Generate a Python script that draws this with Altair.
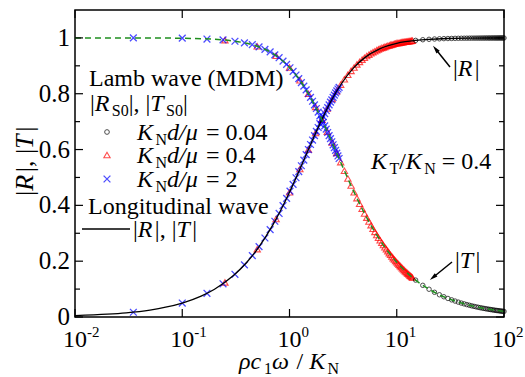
import altair as alt
import pandas as pd

# ---------------- data ----------------
# Longitudinal-wave curves |R| (black) and |T| (green dashed)
x_line = [0.01, 0.02, 0.03, 0.05, 0.07, 0.1, 0.15, 0.2, 0.3, 0.4, 0.5, 0.7, 1.0, 1.2,
          1.5, 2.0, 2.5, 3.0, 4.0, 5.0, 7.0, 10.0, 12.0, 15.0, 20.0, 30.0, 50.0, 70.0, 100.0]
R_line = [0.005, 0.010, 0.015, 0.025, 0.035, 0.0499, 0.0748, 0.0995, 0.1483, 0.1961, 0.2425,
          0.3303, 0.4472, 0.5145, 0.6000, 0.7071, 0.7809, 0.8321, 0.8944, 0.9285, 0.9615,
          0.9806, 0.9864, 0.9912, 0.9950, 0.9978, 0.9992, 0.9996, 0.9998]
T_line = [1.000, 1.000, 0.9999, 0.9997, 0.9994, 0.9988, 0.9972, 0.9950, 0.9889, 0.9806, 0.9701,
          0.9439, 0.8944, 0.8575, 0.8000, 0.7071, 0.6247, 0.5547, 0.4472, 0.3714, 0.2747,
          0.1961, 0.1644, 0.1322, 0.0995, 0.0665, 0.0400, 0.0286, 0.0200]

# Lamb wave (MDM), K_N d / mu = 2  (blue x)
x_kn2 = [0.035, 0.10, 0.17, 0.24, 0.31, 0.38, 0.45, 0.52, 0.59, 0.66, 0.73, 0.80, 0.87, 0.94,
         1.01, 1.08, 1.15, 1.22, 1.29, 1.36, 1.43, 1.50, 1.57, 1.64, 1.71, 1.78, 1.85, 1.92,
         1.99, 2.06, 2.13, 2.20, 2.27, 2.34, 2.41, 2.48, 2.55, 2.62, 2.69, 2.76, 2.83, 2.90]
R_kn2 = [0.017, 0.050, 0.085, 0.119, 0.153, 0.187, 0.220, 0.252, 0.283, 0.313, 0.343, 0.371,
         0.399, 0.425, 0.451, 0.475, 0.499, 0.521, 0.542, 0.562, 0.582, 0.600, 0.618, 0.634,
         0.650, 0.665, 0.679, 0.693, 0.705, 0.718, 0.729, 0.740, 0.750, 0.760, 0.770, 0.778,
         0.787, 0.795, 0.803, 0.810, 0.817, 0.823]
T_kn2 = [1.000, 0.999, 0.996, 0.993, 0.988, 0.982, 0.976, 0.968, 0.959, 0.950, 0.939, 0.929,
         0.917, 0.905, 0.893, 0.880, 0.867, 0.854, 0.840, 0.827, 0.814, 0.800, 0.787, 0.773,
         0.760, 0.747, 0.734, 0.721, 0.709, 0.697, 0.685, 0.673, 0.661, 0.650, 0.639, 0.628,
         0.617, 0.607, 0.597, 0.587, 0.577, 0.568]

# Lamb wave (MDM), K_N d / mu = 0.4  (red triangles)
x_kn04 = [0.25, 0.50, 0.75, 1.00, 1.25, 1.50, 1.75, 2.00, 2.25, 2.50, 2.75, 3.00, 3.25, 3.50,
          3.75, 4.00, 4.25, 4.50, 4.75, 5.00, 5.25, 5.50, 5.75, 6.00, 6.25, 6.50, 6.75, 7.00,
          7.25, 7.50, 7.75, 8.00, 8.25, 8.50, 8.75, 9.00, 9.25, 9.50, 9.75, 10.00, 10.25, 10.50,
          10.75, 11.00, 11.25, 11.50, 11.75, 12.00, 12.25, 12.50, 12.75, 13.00, 13.25, 13.50,
          13.75, 14.00]
R_kn04 = [0.124, 0.243, 0.351, 0.447, 0.530, 0.600, 0.659, 0.707, 0.747, 0.781, 0.809, 0.832,
          0.852, 0.868, 0.882, 0.894, 0.905, 0.914, 0.922, 0.929, 0.935, 0.940, 0.945, 0.949,
          0.952, 0.956, 0.959, 0.962, 0.964, 0.966, 0.968, 0.970, 0.972, 0.973, 0.975, 0.976,
          0.977, 0.979, 0.980, 0.981, 0.982, 0.982, 0.983, 0.984, 0.985, 0.985, 0.986, 0.986,
          0.987, 0.987, 0.988, 0.988, 0.989, 0.989, 0.990, 0.990]
T_kn04 = [0.992, 0.970, 0.936, 0.894, 0.848, 0.800, 0.753, 0.707, 0.664, 0.625, 0.588, 0.555,
          0.524, 0.496, 0.471, 0.447, 0.426, 0.406, 0.388, 0.371, 0.356, 0.342, 0.329, 0.316,
          0.305, 0.294, 0.284, 0.275, 0.266, 0.258, 0.250, 0.243, 0.236, 0.229, 0.223, 0.217,
          0.211, 0.206, 0.201, 0.196, 0.192, 0.187, 0.183, 0.179, 0.175, 0.171, 0.168, 0.164,
          0.161, 0.158, 0.155, 0.152, 0.149, 0.147, 0.144, 0.141]

# Lamb wave (MDM), K_N d / mu = 0.04  (open circles)
x_kn004 = [15.0, 17.5, 20.0, 22.5, 25.0, 27.5, 30.0, 32.5, 35.0, 37.5, 40.0, 42.5, 45.0, 47.5,
           50.0, 52.5, 55.0, 57.5, 60.0, 62.5, 65.0, 67.5, 70.0, 72.5, 75.0, 77.5, 80.0, 82.5,
           85.0, 87.5, 90.0, 92.5, 95.0, 97.5, 100.0]
R_kn004 = [0.9912, 0.9935, 0.9950, 0.9961, 0.9968, 0.9974, 0.9978, 0.9981, 0.9984, 0.9986,
           0.9988, 0.9989, 0.9990, 0.9991, 0.9992, 0.9993, 0.9993, 0.9994, 0.9994, 0.9995,
           0.9995, 0.9996, 0.9996, 0.9996, 0.9996, 0.9997, 0.9997, 0.9997, 0.9997, 0.9997,
           0.9998, 0.9998, 0.9998, 0.9998, 0.9998]
T_kn004 = [0.1322, 0.1135, 0.0995, 0.0885, 0.0797, 0.0725, 0.0665, 0.0614, 0.0571, 0.0533,
           0.0499, 0.0470, 0.0444, 0.0421, 0.0400, 0.0381, 0.0363, 0.0348, 0.0333, 0.0320,
           0.0308, 0.0296, 0.0286, 0.0276, 0.0267, 0.0258, 0.0250, 0.0242, 0.0235, 0.0229,
           0.0222, 0.0216, 0.0210, 0.0205, 0.0200]

x_ticks = [0.01, 0.1, 1, 10, 100]
x_tick_exp = ["-2", "-1", "0", "1", "2"]
y_major = [0, 0.2, 0.4, 0.6, 0.8, 1.0]
y_major_labels = ["0", "0.2", "0.4", "0.6", "0.8", "1"]
y_minor = [0.1, 0.3, 0.5, 0.7, 0.9]

# ---------------- layout helpers ----------------
SERIF = "Liberation Serif"
OX, OY = 75, 10          # plot-area origin in the page
W, H = 429, 307          # plot-area size
FS = 24                  # body text size

xscale = alt.Scale(type="log", domain=[0.01, 100], nice=False)
yscale = alt.Scale(domain=[0, 1.1], nice=False, zero=False)

ONE = pd.DataFrame({"k": [0]})


def text(s, x, y, size=FS, italic=False, angle=0, align="left"):
    return alt.Chart(ONE).mark_text(
        text=s, font=SERIF, fontSize=size, fontStyle="italic" if italic else "normal",
        align=align, baseline="alphabetic", angle=angle, color="black"
    ).encode(x=alt.value(x - OX), y=alt.value(y - OY))


W_REG = {" ": .25, "|": .2, ",": .25, ".": .25, "=": .564, "/": .278, "0": .5, "1": .5,
         "2": .5, "4": .5, "N": .722, "T": .611, "S": .556}
W_IT = {"K": .667, "R": .611, "T": .556, "d": .5, "/": .278, "μ": .5, "ρ": .5, "c": .444,
        "ω": .667}


def width(s, italic, size):
    tbl = W_IT if italic else W_REG
    return sum(tbl.get(ch, .5) for ch in s) * size


def rich(segs, x, y, size=FS, angle=0):
    """Draw a run of differently styled pieces; leading/trailing blanks only move the cursor."""
    layers = []
    pos = x if angle == 0 else y
    sgn = 1 if angle == 0 else -1
    for i, (s, kind) in enumerate(segs):
        it = kind == "i"
        sub = kind == "s"
        fs = round(size * 0.68) if sub else size
        off = size * 0.22 if sub else 0
        lead = len(s) - len(s.lstrip(" "))
        core = s.strip(" ")
        trail = len(s) - len(s.rstrip(" "))
        pos += sgn * lead * 0.25 * fs
        if angle == 0:
            layers.append(text(core, pos, y + off, fs, it))
        else:
            layers.append(text(core, x + off, pos, fs, it, angle=angle))
        pos += sgn * (width(core, it, fs) + trail * 0.25 * fs)
        if it and i + 1 < len(segs) and segs[i + 1][1] != "i":
            pos += sgn * 0.1 * size
    return layers


def pts(xs, rs, ts):
    return pd.DataFrame({"x": xs + xs, "y": rs + ts})


X_PATH = "M-1,-1L1,1M-1,1L1,-1"
HEAD = "M0,-1L0.45,0.7L-0.45,0.7Z"

enc_x = alt.X("x:Q", scale=xscale, axis=None)
enc_y = alt.Y("y:Q", scale=yscale, axis=None)

# ---------------- data layers ----------------
red = alt.Chart(pts(x_kn04, R_kn04, T_kn04)).mark_point(
    shape="triangle-up", filled=False, color="#ff0000", strokeWidth=1.1, size=40
).encode(x=enc_x, y=enc_y)

blue = alt.Chart(pts(x_kn2, R_kn2, T_kn2)).mark_point(
    shape=X_PATH, filled=False, color="#0000ff", strokeWidth=1.3, size=46
).encode(x=enc_x, y=enc_y)

circ = alt.Chart(pts(x_kn004, R_kn004, T_kn004)).mark_point(
    shape="circle", filled=False, color="black", strokeWidth=1, size=20
).encode(x=enc_x, y=enc_y)

black = alt.Chart(pd.DataFrame({"x": x_line, "y": R_line})).mark_line(
    color="black", strokeWidth=1.3, interpolate="monotone"
).encode(x=enc_x, y=enc_y)

green = alt.Chart(pd.DataFrame({"x": x_line, "y": T_line})).mark_line(
    color="#1f8f1f", strokeWidth=1.5, strokeDash=[6, 4], interpolate="monotone"
).encode(x=enc_x, y=enc_y)

# ---------------- inward ticks ----------------
ymaj = pd.DataFrame({"y": y_major, "lab": y_major_labels})
ymin = pd.DataFrame({"y": y_minor})
xt = pd.DataFrame({"x": x_ticks, "e": x_tick_exp})
tick_layers = []
for df, ln in ((ymaj, 8), (ymin, 5)):
    tick_layers.append(alt.Chart(df).mark_rule(color="black", strokeWidth=1.2).encode(
        y=enc_y, x=alt.value(0), x2=alt.value(ln)))
    tick_layers.append(alt.Chart(df).mark_rule(color="black", strokeWidth=1.2).encode(
        y=enc_y, x=alt.value(W), x2=alt.value(W - ln)))
tick_layers.append(alt.Chart(xt).mark_rule(color="black", strokeWidth=1.2).encode(
    x=enc_x, y=alt.value(H), y2=alt.value(H - 8)))
tick_layers.append(alt.Chart(xt).mark_rule(color="black", strokeWidth=1.2).encode(
    x=enc_x, y=alt.value(0), y2=alt.value(8)))

# y tick labels
ylab = alt.Chart(ymaj).mark_text(
    font=SERIF, fontSize=25, align="right", baseline="middle", color="black"
).encode(y=enc_y, x=alt.value(-5), text="lab:N")

# x tick labels 10^n
xlab_base = alt.Chart(xt).mark_text(
    text="10", font=SERIF, fontSize=24, align="center", baseline="alphabetic", color="black"
).encode(x=enc_x, y=alt.value(347 - OY))
xlab_exp = alt.Chart(xt).mark_text(
    font=SERIF, fontSize=15, align="left", baseline="alphabetic", dx=12, color="black"
).encode(x=enc_x, y=alt.value(337 - OY), text="e:N")

# ---------------- texts ----------------
texts = []
texts += rich([("ρc", "i"), ("1", "s"), ("ω", "i"), (" / ", "r"), ("K", "i"), ("N", "s")], 239, 369)
texts += rich([("|", "r"), ("R", "i"), ("|, |", "r"), ("T", "i"), ("|", "r")], 33, 196,
              size=26, angle=270)

texts.append(text("Lamb wave (MDM)", 89, 86))
texts += rich([("|", "r"), ("R", "i"), ("S0", "s"), ("|, |", "r"), ("T", "i"), ("S0", "s"),
               ("|", "r")], 90, 111)
for yy, val in ((140, "0.04"), (163, "0.4"), (187, "2")):
    texts += rich([("K", "i"), ("N", "s"), ("d/μ", "i"), (" = " + val, "r")], 137, yy)
texts.append(text("Longitudinal wave", 88, 214))
texts += rich([("|", "r"), ("R", "i"), ("|, |", "r"), ("T", "i"), ("|", "r")], 133, 237)

texts += rich([("K", "i"), ("T", "s"), ("/", "r"), ("K", "i"), ("N", "s"), (" = 0.4", "r")],
              371, 169)
texts += rich([("|", "r"), ("R", "i"), ("|", "r")], 453, 76)
texts += rich([("|", "r"), ("T", "i"), ("|", "r")], 455, 268)

# legend symbols
sym = [
    alt.Chart(ONE).mark_point(shape="circle", filled=False, color="black", strokeWidth=1,
                              size=22).encode(x=alt.value(107 - OX), y=alt.value(132 - OY)),
    alt.Chart(ONE).mark_point(shape="triangle-up", filled=False, color="#ff0000",
                              strokeWidth=1.1, size=40).encode(x=alt.value(107 - OX), y=alt.value(155 - OY)),
    alt.Chart(ONE).mark_point(shape=X_PATH, filled=False, color="#0000ff", strokeWidth=1.3,
                              size=46).encode(x=alt.value(107 - OX), y=alt.value(179 - OY)),
    alt.Chart(ONE).mark_rule(color="black", strokeWidth=1.3).encode(
        x=alt.value(82 - OX), x2=alt.value(130 - OX), y=alt.value(229 - OY)),
]


# arrows
def arrow(tx, ty, hx, hy, ang):
    return [
        alt.Chart(ONE).mark_rule(color="black", strokeWidth=1.5).encode(
            x=alt.value(tx - OX), y=alt.value(ty - OY), x2=alt.value(hx - OX), y2=alt.value(hy - OY)),
        alt.Chart(ONE).mark_point(shape=HEAD, filled=True, color="black", opacity=1, size=90,
                                  angle=ang).encode(x=alt.value(hx - OX), y=alt.value(hy - OY)),
    ]


arrows = arrow(450, 67, 436, 49.5, 321) + arrow(452, 262, 433.5, 277, 231)

chart = alt.layer(
    red, blue, circ, black, green, *tick_layers, ylab, xlab_base, xlab_exp, *texts, *sym, *arrows
).properties(
    width=W, height=H,
    autosize=alt.AutoSizeParams(type="none"),
    padding={"left": OX, "top": OY, "right": 525 - OX - W, "bottom": 377 - OY - H},
).configure_view(stroke="black", strokeWidth=1.5)

chart.save("out.html", embed_options={"renderer": "svg", "actions": False})
